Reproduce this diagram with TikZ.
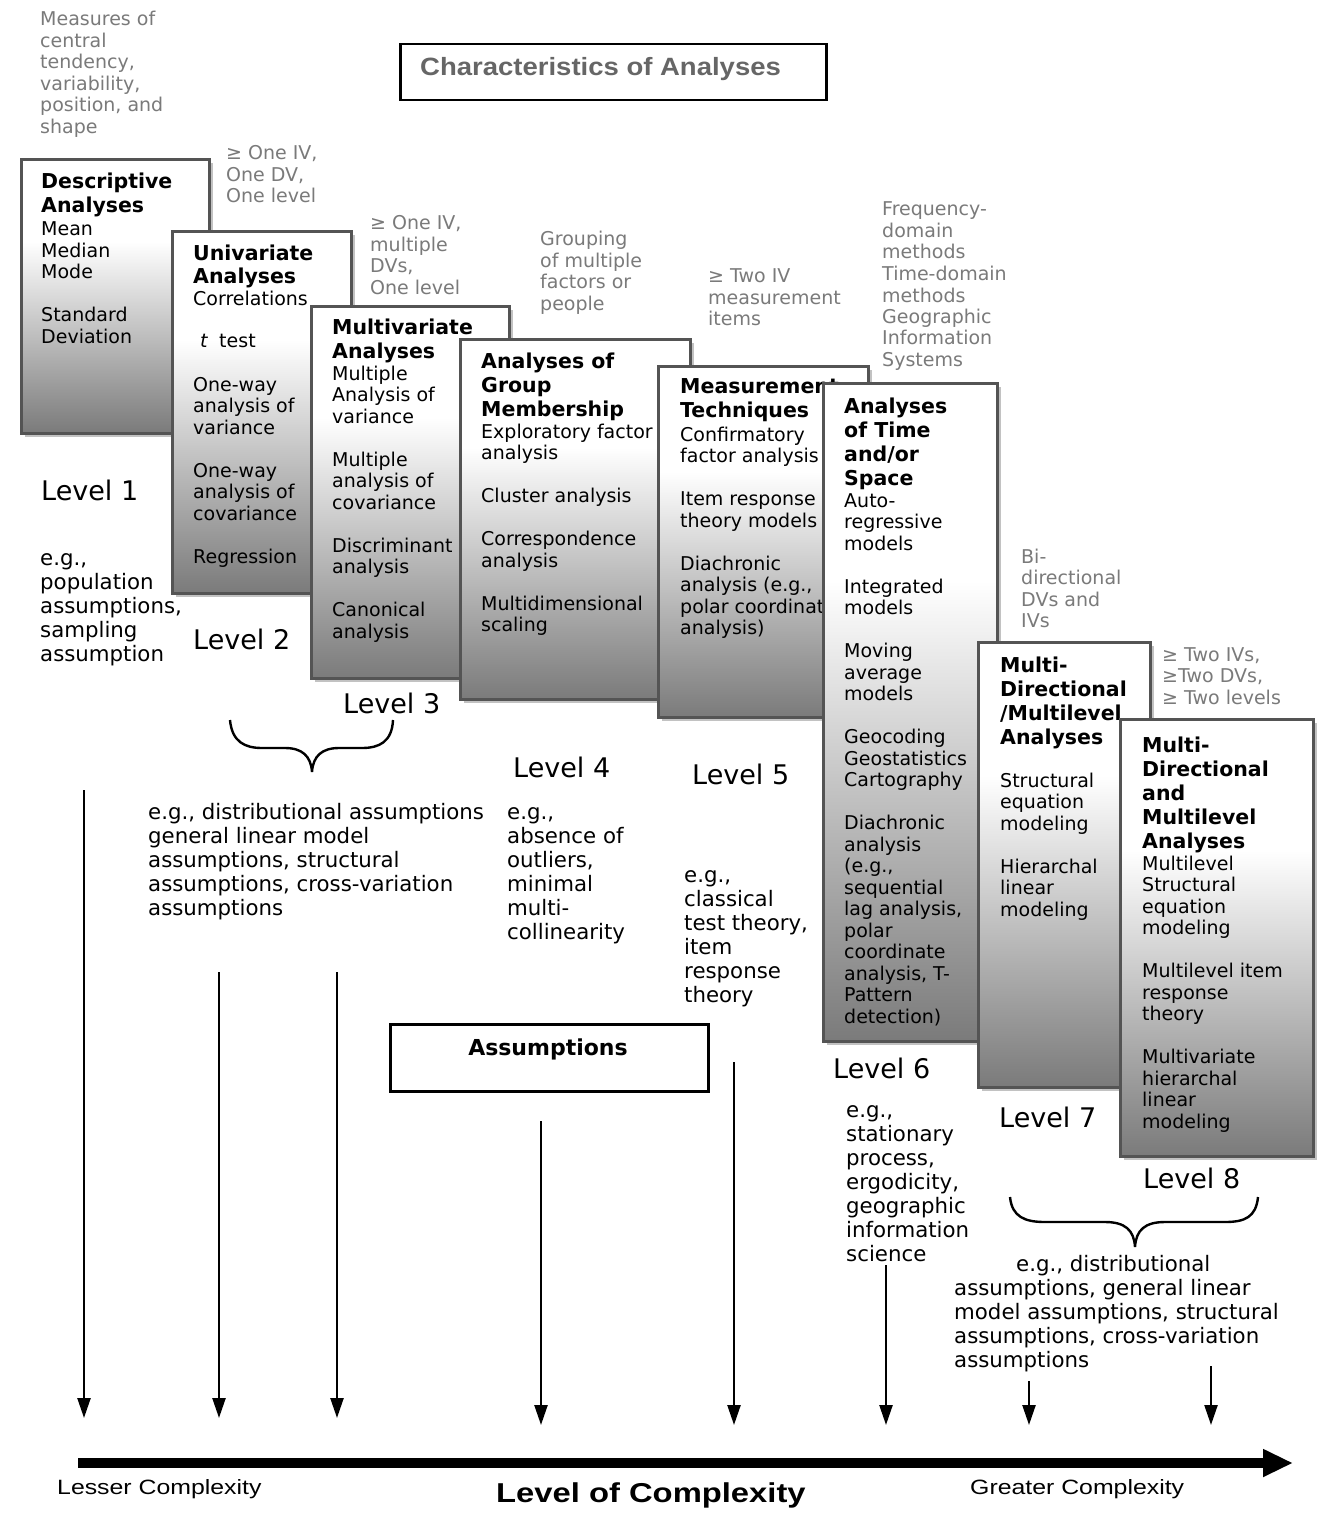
\documentclass[tikz,border=0pt]{standalone}
\usepackage{fontspec}
\setmainfont{DejaVu Sans}
\newfontfamily\arialf{Liberation Sans}
\newfontfamily\arialx[FakeStretch=1.2]{Liberation Sans}
\newfontfamily\arialt[FakeStretch=1.1]{Liberation Sans}
\usetikzlibrary{arrows.meta}
\pgfdeclareverticalshading{boxgrad}{100bp}{color(0bp)=(black!52); color(25bp)=(black!52); color(60bp)=(white); color(100bp)=(white)}
\definecolor{annogray}{gray}{0.48}
\definecolor{edge}{gray}{0.33}
\definecolor{shad}{gray}{0.76}
\definecolor{titlegray}{gray}{0.40}
\newcommand{\lns}[1]{\begin{tabular}[t]{@{}l@{}}#1\end{tabular}}
\newcommand{\abox}[5]{%
  \fill[shad] (#2+5,#3+5) rectangle ++(#4,#5);
  \node[boxbody, minimum width=#4pt, minimum height=#5pt] (#1) at (#2,#3) {};}
\tikzset{
  boxbody/.style={rectangle, draw=edge, line width=2.6pt, shade, shading=boxgrad, inner sep=0pt, anchor=north west},
  ttl/.style={anchor=base west, inner sep=0pt, font=\fontsize{20.5}{24}\selectfont\bfseries},
  bdy/.style={anchor=base west, inner sep=0pt, font=\fontsize{19}{21.5}\selectfont},
  anno/.style={anchor=base west, inner sep=0pt, text=annogray, font=\fontsize{19}{21.5}\selectfont},
  lvl/.style={anchor=base west, inner sep=0pt, font=\fontsize{27}{30}\selectfont},
  asm/.style={anchor=base west, inner sep=0pt, font=\fontsize{21.3}{24}\selectfont},
  varrow/.style={line width=2.4pt, -{Triangle[length=20pt,width=13pt]}},
  bracepath/.style={line width=2.4pt},
  framebox/.style={draw=black, line width=2.5pt, rectangle, inner sep=0pt, anchor=north west, fill=white},
}
\begin{document}
\begin{tikzpicture}[x=1pt,y=-1pt]
\useasboundingbox (0,0) rectangle (1325,1522);
\fill[white] (0,0) rectangle (1325,1522);

% title frame
\node[framebox, minimum width=426pt, minimum height=56pt] (titlebox) at (399,43) {};
\node[anchor=base west, inner sep=0pt, text=titlegray, font=\arialt\fontsize{25}{28}\selectfont\bfseries] (titletext) at (420,76) {Characteristics of Analyses};

% gray annotations
\node[anno] (g0) at (40,26) {\lns{Measures of\\central\\tendency,\\variability,\\position, and\\shape}};
\node[anno] (g1) at (226,160) {\lns{≥ One IV,\\One DV,\\One level}};
\node[anno] (g2) at (370,230) {\lns{≥ One IV,\\multiple\\DVs,\\One level}};
\node[anno] (g3) at (540,246) {\lns{Grouping\\of multiple\\factors or\\people}};
\node[anno] (g4) at (708,283) {\lns{≥ Two IV\\measurement\\items}};
\node[anno] (g5) at (882,216) {\lns{Frequency-\\domain\\methods\\Time-domain\\methods\\Geographic\\Information\\Systems}};
\node[anno] (g6) at (1021,563) {\lns{Bi-\\directional\\DVs and\\IVs}};
\node[anno] (g7) at (1162,661) {\lns{≥ Two IVs,\\≥Two DVs,\\≥ Two levels}};

% box 1
\abox{b1}{20}{158}{188}{274}
\node[ttl] (b1t) at (41,189) {\lns{Descriptive\\Analyses}};
\node[bdy] (b1b) at (41,236) {\lns{Mean\\Median\\Mode\\ \\Standard\\Deviation}};

% box 2
\abox{b2}{171}{230}{179}{362}
\node[ttl] (b2t) at (193,260) {\lns{Univariate\\Analyses}};
\node[bdy] (b2b) at (193,305) {\lns{Correlations\\ \\\hspace{7pt}\textit{t}\hspace{11pt}test\\ \\One-way\\analysis of\\variance\\ \\One-way\\analysis of\\covariance\\ \\Regression}};

% box 3
\abox{b3}{310}{305}{198}{372}
\node[ttl] (b3t) at (332,334) {\lns{Multivariate\\Analyses}};
\node[bdy] (b3b) at (332,380) {\lns{Multiple\\Analysis of\\variance\\ \\Multiple\\analysis of\\covariance\\ \\Discriminant\\analysis\\ \\Canonical\\analysis}};

% box 4
\abox{b4}{459}{338}{230}{360}
\node[ttl] (b4t) at (481,368) {\lns{Analyses of\\Group\\Membership}};
\node[bdy] (b4b) at (481,438) {\lns{Exploratory factor\\analysis\\ \\Cluster analysis\\ \\Correspondence\\analysis\\ \\Multidimensional\\scaling}};

% box 5
\abox{b5}{657}{365}{210}{351}
\node[ttl] (b5t) at (680,393) {\lns{Measurement\\Techniques}};
\node[bdy] (b5b) at (680,441) {\lns{Confirmatory\\factor analysis\\ \\Item response\\theory models\\ \\Diachronic\\analysis (e.g.,\\polar coordinate\\analysis)}};

% box 6
\abox{b6}{822}{382}{174}{658}
\node[ttl] (b6t) at (844,413) {\lns{Analyses\\of Time\\and/or\\Space}};
\node[bdy] (b6b) at (844,507) {\lns{Auto-\\regressive\\models\\ \\Integrated\\models\\ \\Moving\\average\\models\\ \\Geocoding\\Geostatistics\\Cartography\\ \\Diachronic\\analysis\\(e.g.,\\sequential\\lag analysis,\\polar\\coordinate\\analysis, T-\\Pattern\\detection)}};

% box 7
\abox{b7}{977}{641}{172}{445}
\node[ttl] (b7t) at (1000,672) {\lns{Multi-\\Directional\\/Multilevel\\Analyses}};
\node[bdy] (b7b) at (1000,787) {\lns{Structural\\equation\\modeling\\ \\Hierarchal\\linear\\modeling}};

% box 8
\abox{b8}{1119}{718}{193}{437}
\node[ttl] (b8t) at (1142,752) {\lns{Multi-\\Directional\\and\\Multilevel\\Analyses}};
\node[bdy] (b8b) at (1142,870) {\lns{Multilevel\\Structural\\equation\\modeling\\ \\Multilevel item\\response\\theory\\ \\Multivariate\\hierarchal\\linear\\modeling}};

% level labels
\node[lvl] (l1) at (41,500) {Level 1};
\node[lvl] (l2) at (193,649) {Level 2};
\node[lvl] (l3) at (343,713) {Level 3};
\node[lvl] (l4) at (513,777) {Level 4};
\node[lvl] (l5) at (692,784) {Level 5};
\node[lvl] (l6) at (833,1078) {Level 6};
\node[lvl] (l7) at (999,1127) {Level 7};
\node[lvl] (l8) at (1143,1188) {Level 8};

% assumption texts
\node[asm] (a1) at (40,565) {\lns{e.g.,\\population\\assumptions,\\sampling\\assumption}};
\node[asm] (a2) at (148,819) {\lns{e.g., distributional assumptions\\general linear model\\assumptions, structural\\assumptions, cross-variation\\assumptions}};
\node[asm] (a4) at (507,819) {\lns{e.g.,\\absence of\\outliers,\\minimal\\multi-\\collinearity}};
\node[asm] (a5) at (684,882) {\lns{e.g.,\\classical\\test theory,\\item\\response\\theory}};
\node[asm] (a6) at (846,1117) {\lns{e.g.,\\stationary\\process,\\ergodicity,\\geographic\\information\\science}};
\node[asm] (a8) at (954,1271) {\lns{\hspace{62pt}e.g., distributional\\assumptions, general linear\\model assumptions, structural\\assumptions, cross-variation\\assumptions}};

% braces
\draw[bracepath] (230,720) .. controls (232,742) and (245,748) .. (262,748) -- (285,748) .. controls (302,748) and (311,756) .. (312,772) .. controls (313,756) and (322,748) .. (339,748) -- (362,748) .. controls (379,748) and (392,742) .. (393,720);
\draw[bracepath] (1010,1197) .. controls (1012,1217) and (1025,1222) .. (1045,1222) -- (1105,1222) .. controls (1125,1222) and (1134,1230) .. (1135,1247) .. controls (1136,1230) and (1145,1222) .. (1165,1222) -- (1225,1222) .. controls (1245,1222) and (1256,1217) .. (1258,1197);

% assumptions frame
\node[framebox, minimum width=318pt, minimum height=67pt] (asmbox) at (389,1023) {};
\node[anchor=base, inner sep=0pt, font=\fontsize{22}{26}\selectfont\bfseries] (asmtext) at (548,1055) {Assumptions};

% vertical arrows
\coordinate (s1) at (84,790);   \coordinate (e1) at (84,1418);
\coordinate (s2) at (219,972);  \coordinate (e2) at (219,1418);
\coordinate (s3) at (337,972);  \coordinate (e3) at (337,1418);
\coordinate (s4) at (541,1121); \coordinate (e4) at (541,1425);
\coordinate (s5) at (734,1062); \coordinate (e5) at (734,1425);
\coordinate (s6) at (886,1265); \coordinate (e6) at (886,1425);
\coordinate (s7) at (1029,1381); \coordinate (e7) at (1029,1425);
\coordinate (s8) at (1211,1366); \coordinate (e8) at (1211,1425);
\foreach \i in {1,...,8} { \draw[varrow] (s\i) -- (e\i); }

% complexity axis
\coordinate (axL) at (78,1463);
\coordinate (axR) at (1293,1463);
\draw[line width=9.5pt, -{Triangle[length=30pt,width=26pt]}] (axL) -- (axR);
\node[anchor=base west, inner sep=0pt, font=\arialx\fontsize{20.7}{24}\selectfont] (lesser) at (57,1494) {Lesser Complexity};
\node[anchor=base west, inner sep=0pt, font=\arialx\fontsize{27.3}{30}\selectfont\bfseries] (levelc) at (496,1502) {Level of Complexity};
\node[anchor=base west, inner sep=0pt, font=\arialx\fontsize{20.7}{24}\selectfont] (greater) at (970,1494) {Greater Complexity};
\end{tikzpicture}
\end{document}
